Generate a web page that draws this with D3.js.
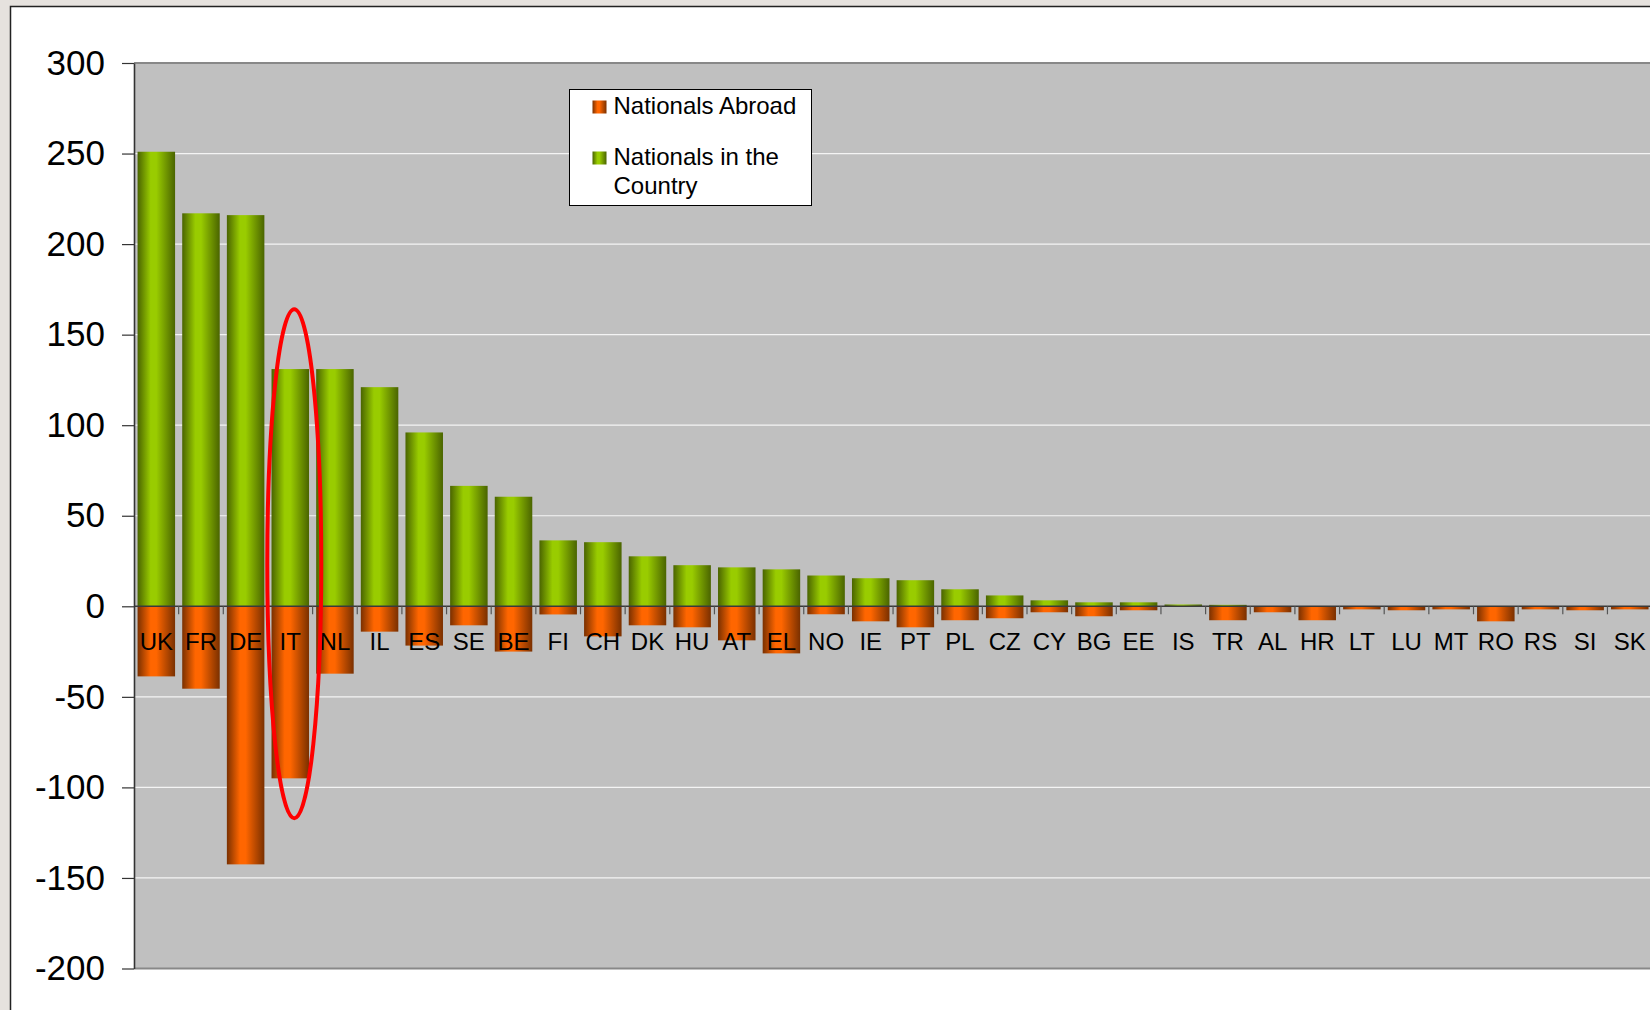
<!DOCTYPE html>
<html>
<head>
<meta charset="utf-8">
<script src="https://cdn.jsdelivr.net/npm/d3@7"></script>
<style>
  body { margin: 0; background: #e6e2de; }
  svg { display: block; font-family: "Liberation Sans", Arial, sans-serif; }
</style>
</head>
<body>
<div id="chart"></div>
<script>
// categories and values
var countries = ["UK","FR","DE","IT","NL","IL","ES","SE","BE","FI","CH","DK","HU","AT","EL","NO","IE","PT","PL","CZ","CY","BG","EE","IS","TR","AL","HR","LT","LU","MT","RO","RS","SI","SK"];
var inCountry = [251, 217, 216, 131, 131, 121, 96, 66.5, 60.5, 36.4, 35.4, 27.6, 22.7, 21.5, 20.4, 17, 15.5, 14.4, 9.4, 6, 3.3, 2.2, 2.2, 1, 0.8, 0, 0, 0, 0, 0, 0, 0, 0, 0];
var abroad = [-38.7, -45.5, -142.5, -95, -37.2, -14, -21.7, -10.5, -25, -4.5, -16.6, -10.5, -11.6, -18.8, -26, -4.4, -8.3, -11.6, -7.7, -6.6, -3.3, -5.5, -2.2, 0, -7.7, -3.3, -7.7, -1.7, -2.2, -1.7, -8.3, -1.7, -2.2, -1.7];
var yTicks = [300, 250, 200, 150, 100, 50, 0, -50, -100, -150, -200];
var legendLabels = [["Nationals Abroad"], ["Nationals in the", "Country"]];
// red ring drawn round Italy
var highlight = {country: "IT", top: 164, bottom: -117};

var W = 1650, H = 1010;
var plot = {left: 134, top: 63, bottom: 968.5};

var svg = d3.select("#chart").append("svg")
    .attr("width", W)
    .attr("height", H);

// gradients like the spreadsheet bars
var defs = svg.append("defs");
function grad(id, dark, bright) {
  var g = defs.append("linearGradient").attr("id", id)
      .attr("x1", "0%").attr("x2", "100%").attr("y1", "0%").attr("y2", "0%");
  g.append("stop").attr("offset", "0%").attr("stop-color", dark);
  g.append("stop").attr("offset", "35%").attr("stop-color", bright);
  g.append("stop").attr("offset", "50%").attr("stop-color", bright);
  g.append("stop").attr("offset", "100%").attr("stop-color", dark);
}
grad("gGreen", "#4a6400", "#99cc00");
grad("gOrange", "#7a3000", "#ff6600");

// white chart sheet with dark frame
svg.append("rect")
    .attr("x", 10.5).attr("y", 6.5)
    .attr("width", W).attr("height", H)
    .attr("fill", "#fff")
    .attr("stroke", "#222").attr("stroke-width", 1.5);

var step = 44.65;
var x = d3.scaleBand()
    .domain(countries)
    .range([plot.left, plot.left + step * countries.length])
    .paddingInner(0.16)
    .paddingOuter(0.08);
var y = d3.scaleLinear().domain([-200, 300]).range([plot.bottom, plot.top]);

// plot area
svg.append("rect")
    .attr("x", plot.left).attr("y", plot.top)
    .attr("width", W - plot.left).attr("height", plot.bottom - plot.top)
    .attr("fill", "#c0c0c0");

// gridlines
svg.append("g").selectAll("line")
  .data(yTicks.filter(function(d) { return d != 300 && d != -200 && d != 0; }))
  .enter().append("line")
    .attr("x1", plot.left).attr("x2", W)
    .attr("y1", function(d) { return y(d); })
    .attr("y2", function(d) { return y(d); })
    .attr("stroke", "#f4f4f4").attr("stroke-width", 1.2);

// top / bottom borders of the plot area
svg.append("line")
    .attr("x1", plot.left).attr("x2", W)
    .attr("y1", y(300)).attr("y2", y(300))
    .attr("stroke", "#888").attr("stroke-width", 2);
svg.append("line")
    .attr("x1", plot.left).attr("x2", W)
    .attr("y1", y(-200)).attr("y2", y(-200))
    .attr("stroke", "#888").attr("stroke-width", 2);

// bars
svg.append("g").selectAll("rect")
  .data(countries)
  .enter().append("rect")
    .attr("x", function(d) { return x(d); })
    .attr("width", x.bandwidth())
    .attr("y", function(d, i) { return y(inCountry[i]); })
    .attr("height", function(d, i) { return y(0) - y(inCountry[i]); })
    .attr("fill", "url(#gGreen)");

svg.append("g").selectAll("rect")
  .data(countries)
  .enter().append("rect")
    .attr("x", function(d) { return x(d); })
    .attr("width", x.bandwidth())
    .attr("y", y(0))
    .attr("height", function(d, i) { return y(abroad[i]) - y(0); })
    .attr("fill", "url(#gOrange)");

// zero line and category ticks
svg.append("line")
    .attr("x1", plot.left).attr("x2", W)
    .attr("y1", y(0)).attr("y2", y(0))
    .attr("stroke", "#3a3a3a").attr("stroke-width", 1.6);

svg.append("g").selectAll("line")
  .data(countries.slice(1))
  .enter().append("line")
    .attr("x1", function(d) { return x(d) - x.step() * 0.08; })
    .attr("x2", function(d) { return x(d) - x.step() * 0.08; })
    .attr("y1", y(0)).attr("y2", y(0) + 8)
    .attr("stroke", "#555").attr("stroke-width", 1.2);

// category labels
svg.append("g").selectAll("text")
  .data(countries)
  .enter().append("text")
    .attr("x", function(d) { return x(d) + x.bandwidth() / 2; })
    .attr("y", y(0) + 44)
    .attr("text-anchor", "middle")
    .attr("font-size", "24px")
    .attr("fill", "#000")
    .text(function(d) { return d; });

// y axis (plain hyphen minus like the original)
var yAxis = svg.append("g")
    .attr("transform", "translate(" + plot.left + ",0)")
    .call(d3.axisLeft(y).tickValues(yTicks).tickSize(12).tickPadding(17).tickSizeOuter(0)
      .tickFormat(function(d) { return String(d); }));
yAxis.select(".domain").attr("stroke", "#333").attr("stroke-width", 1.6);
yAxis.selectAll(".tick line").attr("stroke", "#333").attr("stroke-width", 1.2);
yAxis.selectAll(".tick text")
    .attr("font-size", "35px")
    .attr("font-family", "'Liberation Sans', Arial, sans-serif")
    .attr("fill", "#000");

// red ellipse
var hx = x(highlight.country) + x.bandwidth() / 2 + 4;
svg.append("ellipse")
    .attr("cx", hx)
    .attr("cy", (y(highlight.top) + y(highlight.bottom)) / 2)
    .attr("rx", 27)
    .attr("ry", (y(highlight.bottom) - y(highlight.top)) / 2)
    .attr("fill", "none")
    .attr("stroke", "#ff0000")
    .attr("stroke-width", 4);

// legend
var legend = svg.append("g").attr("transform", "translate(569.5,89.5)");
legend.append("rect")
    .attr("width", 242).attr("height", 116)
    .attr("fill", "#fff").attr("stroke", "#000").attr("stroke-width", 1);
var swatches = ["url(#gOrange)", "url(#gGreen)"];
var rowY = [24, 75];
legendLabels.forEach(function(lines, i) {
  legend.append("rect")
      .attr("x", 23).attr("y", rowY[i] - 13)
      .attr("width", 14).attr("height", 13)
      .attr("fill", swatches[i]);
  lines.forEach(function(t, j) {
    legend.append("text")
        .attr("x", 44).attr("y", rowY[i] + j * 29)
        .attr("font-size", "24px")
        .attr("fill", "#000")
        .text(t);
  });
});
</script>
</body>
</html>
